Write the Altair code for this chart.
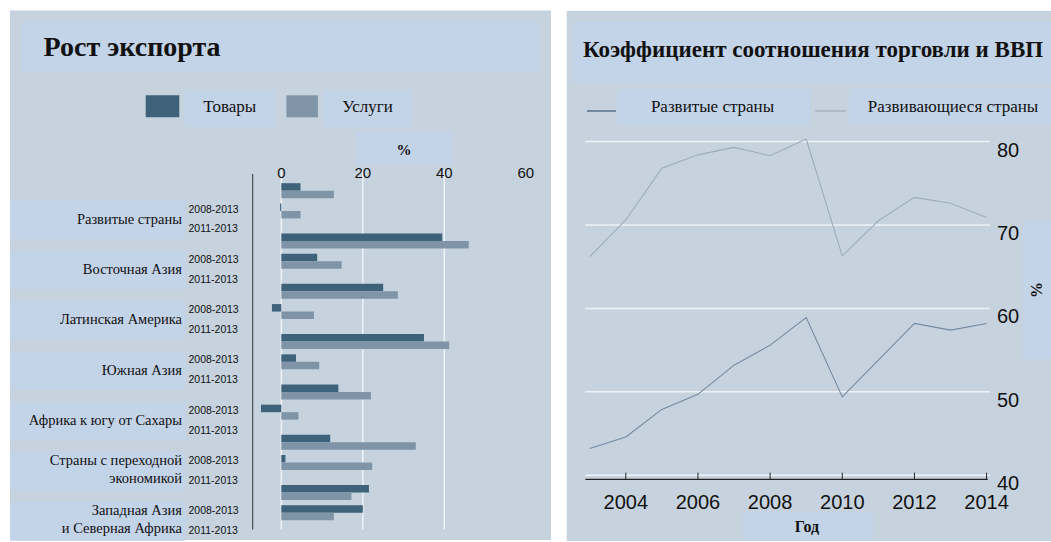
import altair as alt
import pandas as pd

# ---------------- data ----------------
regions = ["Развитые страны", "Восточная Азия", "Латинская Америка", "Южная Азия",
           "Африка к югу от Сахары", "Страны с переходной\nэкономикой",
           "Западная Азия\nи Северная Африка"]
periods = ["2008-2013", "2011-2013"]
bar_types = ["Товары", "Услуги"]
goods = [4.7, -0.3, 39.5, 8.8, 25.0, -2.3, 35.0, 3.6, 14.0, -5.0, 12.0, 1.0, 21.5, 20.0]
services = [12.9, 4.7, 46.0, 14.8, 28.6, 8.0, 41.2, 9.3, 22.0, 4.2, 33.0, 22.3, 17.2, 12.9]
bar_ticks = [0, 20, 40, 60]
bar_grid = [0, 20, 40]

years = list(range(2003, 2015))
developed = [43.2, 44.6, 47.9, 49.7, 53.2, 55.6, 58.9, 49.4, 53.8, 58.2, 57.4, 58.2]
developing = [66.2, 70.6, 76.8, 78.4, 79.3, 78.3, 80.3, 66.3, 70.5, 73.3, 72.6, 70.9]
line_series = ["Развитые страны", "Развивающиеся страны"]
year_ticks = [2004, 2006, 2008, 2010, 2012, 2014]
pct_ticks = [40, 50, 60, 70, 80]

# ---------------- styles ----------------
PANEL = "#c6d3de"
BOX = "#c3d3e8"
GOODS = "#3d6279"
SERV = "#7f94a7"
DEV = "#7489a0"
DEVING = "#9cacbc"
INK = "#111111"
SERIF = "Liberation Serif"
SANS = "Liberation Sans"

# ---------------- tables ----------------
bar_rows = []
for i in range(len(goods)):
    for t, vals in enumerate([goods, services]):
        bar_rows.append({"region": regions[i // 2], "period": periods[i % 2],
                         "type": bar_types[t], "value": vals[i],
                         "g": i // 2, "p": i % 2, "t": t})
bars_df = pd.DataFrame(bar_rows)
period_df = pd.DataFrame([{"g": g, "p": p, "period": periods[p]}
                          for g in range(len(regions)) for p in range(2)])
region_df = pd.DataFrame({"g": list(range(len(regions))), "region": regions})
bt_df = pd.DataFrame({"v": bar_ticks})
bg_df = pd.DataFrame({"v": bar_grid})

line_df = pd.DataFrame({
    "year": years * 2,
    "value": developed + developing,
    "series": [line_series[0]] * len(years) + [line_series[1]] * len(years),
})
yt_df = pd.DataFrame({"year": year_ticks})
pt_df = pd.DataFrame({"v": pct_ticks})
ONE = pd.DataFrame({"k": [0]})

# ---------------- helpers for decorations ----------------
def rect(x, x2, y, y2, color):
    return alt.Chart(ONE).mark_rect(color=color).encode(
        x=alt.value(x), x2=alt.value(x2), y=alt.value(y), y2=alt.value(y2))


def hline(x, x2, y, color, w):
    return alt.Chart(ONE).mark_rule(color=color, strokeWidth=w).encode(
        x=alt.value(x), x2=alt.value(x2), y=alt.value(y))


def vline(x, y, y2, color, w):
    return alt.Chart(ONE).mark_rule(color=color, strokeWidth=w).encode(
        x=alt.value(x), y=alt.value(y), y2=alt.value(y2))


def label(text, x, y, size, font=SERIF, weight="normal", align="center",
          baseline="alphabetic", angle=0):
    return alt.Chart(ONE).mark_text(
        text=text, fontSize=size, font=font, fontWeight=weight, align=align,
        baseline=baseline, angle=angle, color=INK).encode(
        x=alt.value(x), y=alt.value(y))


deco = alt.layer(
    rect(10, 551, 10.5, 540, PANEL),
    rect(566.7, 1051, 11, 541, PANEL),
    # left title + legend
    rect(22, 539, 21.7, 72.7, BOX),
    label("Рост экспорта", 43.6, 56, 28, weight="bold", align="left"),
    rect(145.7, 179.3, 95.3, 117.3, GOODS),
    rect(184.6, 275, 89.5, 126.7, BOX),
    label("Товары", 229.8, 112, 17),
    rect(286.4, 317.9, 95.3, 117.3, SERV),
    rect(322.5, 412.5, 89.5, 126.7, BOX),
    label("Услуги", 367.5, 112, 17),
    rect(356, 452.5, 131.7, 165, BOX),
    label("%", 404, 155, 15, weight="bold"),
    # right title + legend
    rect(572, 1051, 22, 82.7, BOX),
    label("Коэффициент соотношения торговли и ВВП", 583, 57, 23, weight="bold",
          align="left"),
    hline(587, 616, 111, DEV, 2),
    rect(617.3, 810, 89.3, 125.3, BOX),
    label("Развитые страны", 712.5, 112, 17),
    hline(815.3, 846, 111, DEVING, 1.2),
    rect(849.3, 1051, 88.3, 125, BOX),
    label("Развивающиеся страны", 953, 112, 17),
    rect(742.7, 873, 512, 541, BOX),
    label("Год", 807, 532, 16, weight="bold"),
    rect(1022.7, 1051, 221.7, 359, BOX),
    label("%", 1037, 290, 16, weight="bold", baseline="middle", angle=270),
)

# ---------------- left chart: export growth ----------------
XB = alt.Scale(domain=[-7, 60], range=[252.8, 525.8], nice=False, zero=False)
YB = alt.Scale(domain=[0, 7], range=[183.2, 535.3], nice=False, zero=False)

region_boxes = alt.Chart(region_df).transform_calculate(
    b0="datum.g + 0.34", b1="datum.g + 1.11").mark_rect(color=BOX).encode(
    x=alt.value(10), x2=alt.value(185),
    y=alt.Y("b0:Q", scale=YB, axis=None), y2="b1:Q")

grid_b = alt.Chart(bg_df).mark_rule(color="#eef2f6", strokeWidth=1.5).encode(
    x=alt.X("v:Q", scale=XB, axis=None), y=alt.value(170), y2=alt.value(529.5))

axis_b = vline(252.7, 174, 529.5, "#333333", 1)

xlab_b = alt.Chart(bt_df).mark_text(fontSize=15, font=SANS, color=INK,
                                    baseline="middle").encode(
    x=alt.X("v:Q", scale=XB, axis=None), y=alt.value(172.7), text="v:Q")

bars = alt.Chart(bars_df).transform_calculate(
    y0="datum.g + datum.p * 0.403 + datum.t * 0.149",
    y1="datum.g + datum.p * 0.403 + datum.t * 0.149 + 0.149",
).mark_rect().encode(
    x=alt.X("value:Q", scale=XB, axis=None), x2=alt.datum(0),
    y=alt.Y("y0:Q", scale=YB, axis=None), y2="y1:Q",
    color=alt.Color("type:N", scale=alt.Scale(domain=bar_types, range=[GOODS, SERV]),
                    legend=None),
)

period_lab = alt.Chart(period_df).transform_calculate(
    yy="datum.g + 0.523 + datum.p * 0.397").mark_text(
    fontSize=10.5, font=SANS, color=INK, align="left", baseline="middle").encode(
    x=alt.value(188.5), y=alt.Y("yy:Q", scale=YB, axis=None), text="period:N")

region_lab = alt.Chart(region_df).transform_calculate(
    yy="datum.g + (indexof(datum.region, '\\n') >= 0 ? 0.52 : 0.725)").mark_text(
    fontSize=14.5, font=SERIF, color=INK, align="right", baseline="middle",
    lineBreak="\n", lineHeight=18).encode(
    x=alt.value(182), y=alt.Y("yy:Q", scale=YB, axis=None), text="region:N")

left = alt.layer(region_boxes, grid_b, axis_b, xlab_b, bars, period_lab, region_lab)

# ---------------- right chart: trade to GDP ----------------
XL = alt.Scale(domain=[2003, 2014], range=[589.7, 986.6], nice=False, zero=False)
YL = alt.Scale(domain=[40, 80], range=[475.3, 141.5], nice=False, zero=False)

grid_l = alt.Chart(pt_df).mark_rule(color="#eef2f6", strokeWidth=1.5).encode(
    y=alt.Y("v:Q", scale=YL, axis=None), x=alt.value(585.3), x2=alt.value(990))

lines = alt.Chart(line_df).mark_line(strokeWidth=1.1).encode(
    x=alt.X("year:Q", scale=XL, axis=None),
    y=alt.Y("value:Q", scale=YL, axis=None),
    color=alt.Color("series:N", scale=alt.Scale(domain=line_series, range=[DEV, DEVING]),
                    legend=None),
)

axis_l = hline(585.3, 987.7, 479.3, "#222222", 1.2)

ticks_l = alt.Chart(yt_df).mark_rule(color="#222222", strokeWidth=1).encode(
    x=alt.X("year:Q", scale=XL, axis=None), y=alt.value(472.7), y2=alt.value(479.3))

xlab_l = alt.Chart(yt_df).mark_text(fontSize=20, font=SANS, color=INK,
                                    baseline="middle").encode(
    x=alt.X("year:Q", scale=XL, axis=None), y=alt.value(502.7),
    text=alt.Text("year:Q", format="d"))

ylab_l = alt.Chart(pt_df).mark_text(fontSize=20, font=SANS, color=INK, align="left",
                                    baseline="middle", dy=9).encode(
    y=alt.Y("v:Q", scale=YL, axis=None), x=alt.value(997), text="v:Q")

right = alt.layer(grid_l, lines, axis_l, ticks_l, xlab_l, ylab_l)

chart = alt.layer(deco, left, right).resolve_scale(
    x="independent", y="independent", color="independent"
).properties(
    width=1051, height=542, autosize="none", padding=0, background="white"
).configure_view(stroke=None)

chart.save("out.html", embed_options={"renderer": "svg", "actions": False})
